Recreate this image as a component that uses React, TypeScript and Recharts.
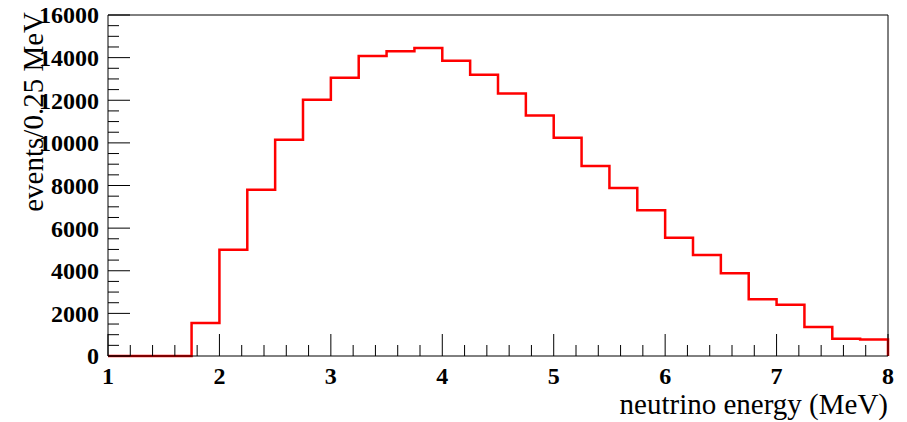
import type { ReactElement } from "react";
import { LineChart, Line, XAxis, YAxis, ReferenceLine } from "recharts";

// Bin low edges (0.25 MeV bins) and counts per bin
const binLowEdges = [
  1.0, 1.25, 1.5, 1.75, 2.0, 2.25, 2.5, 2.75, 3.0, 3.25, 3.5, 3.75, 4.0, 4.25,
  4.5, 4.75, 5.0, 5.25, 5.5, 5.75, 6.0, 6.25, 6.5, 6.75, 7.0, 7.25, 7.5, 7.75,
];
const binCounts = [
  0, 0, 0, 1550, 4980, 7800, 10150, 12020, 13050, 14080, 14300, 14450, 13850, 13200,
  12320, 11280, 10240, 8920, 7880, 6840, 5550, 4740, 3880, 2660, 2400, 1360, 810, 780,
];
// Upper edge of the last bin, where the histogram drops back to 0
const upperEdge = 8;

const xMajorTicks = [1, 2, 3, 4, 5, 6, 7, 8];
const yMajorTicks = [0, 2000, 4000, 6000, 8000, 10000, 12000, 14000, 16000];
const xMinorStep = 0.2;
const yMinorStep = 500;

const xTitle = "neutrino energy (MeV)";
const yTitle = "events/0.25 MeV";

const data = [
  ...binLowEdges.map((e, i) => ({ energy: e, count: binCounts[i] })),
  { energy: upperEdge, count: 0 },
];

const xTicks: number[] = [];
for (let v = xMajorTicks[0]; v <= xMajorTicks[xMajorTicks.length - 1] + 1e-6; v += xMinorStep) {
  xTicks.push(Math.round(v * 100) / 100);
}
const yTicks: number[] = [];
for (let v = yMajorTicks[0]; v <= yMajorTicks[yMajorTicks.length - 1]; v += yMinorStep) {
  yTicks.push(v);
}

const FONT = "'Liberation Serif', 'Times New Roman', serif";

function XTick(props: any): ReactElement {
  const { x, y, payload } = props;
  const v = payload.value as number;
  const major = xMajorTicks.some((m) => Math.abs(m - v) < 1e-6);
  return (
    <g>
      <line x1={x} y1={y} x2={x} y2={y - (major ? 22 : 11)} stroke="#000" strokeWidth={1} />
      {major && (
        <text x={x} y={y + 28} textAnchor="middle" fontFamily={FONT} fontWeight="bold" fontSize={24} fill="#000">
          {Math.round(v)}
        </text>
      )}
    </g>
  );
}

function YTick(props: any): ReactElement {
  const { x, y, payload } = props;
  const v = payload.value as number;
  const major = yMajorTicks.includes(v);
  return (
    <g>
      <line x1={x} y1={y} x2={x + (major ? 22 : 11)} y2={y} stroke="#000" strokeWidth={1} />
      {major && (
        <text x={x - 9} y={y} dy="0.35em" textAnchor="end" fontFamily={FONT} fontWeight="bold" fontSize={24} fill="#000">
          {v}
        </text>
      )}
    </g>
  );
}

export default function App(): ReactElement {
  return (
    <div style={{ position: "absolute", left: 0, top: 0, width: 907, height: 422, background: "#fff" }}>
      <LineChart width={907} height={422} data={data} margin={{ top: 15, right: 19, bottom: 16, left: 48 }}>
        <XAxis
          dataKey="energy"
          type="number"
          domain={[1, 8]}
          ticks={xTicks}
          interval={0}
          tickSize={0}
          tickMargin={0}
          tick={<XTick />}
          height={50}
          axisLine={{ stroke: "#000" }}
          allowDecimals
        />
        <YAxis
          type="number"
          domain={[0, 16000]}
          ticks={yTicks}
          interval={0}
          tickSize={0}
          tickMargin={0}
          tick={<YTick />}
          width={60}
          axisLine={{ stroke: "#000" }}
        />
        <ReferenceLine y={16000} stroke="#000" strokeWidth={1} />
        <ReferenceLine x={8} stroke="#000" strokeWidth={1} />
        <Line
          type="stepAfter"
          dataKey="count"
          stroke="#ff0000"
          strokeWidth={2.5}
          dot={false}
          isAnimationActive={false}
        />
        <text x={888} y={414} textAnchor="end" fontFamily={FONT} fontSize={29} fill="#000">
          {xTitle}
        </text>
        <text
          x={0}
          y={0}
          transform="translate(43, 12) rotate(-90)"
          textAnchor="end"
          fontFamily={FONT}
          fontSize={29}
          fill="#000"
        >
          {yTitle}
        </text>
      </LineChart>
    </div>
  );
}
